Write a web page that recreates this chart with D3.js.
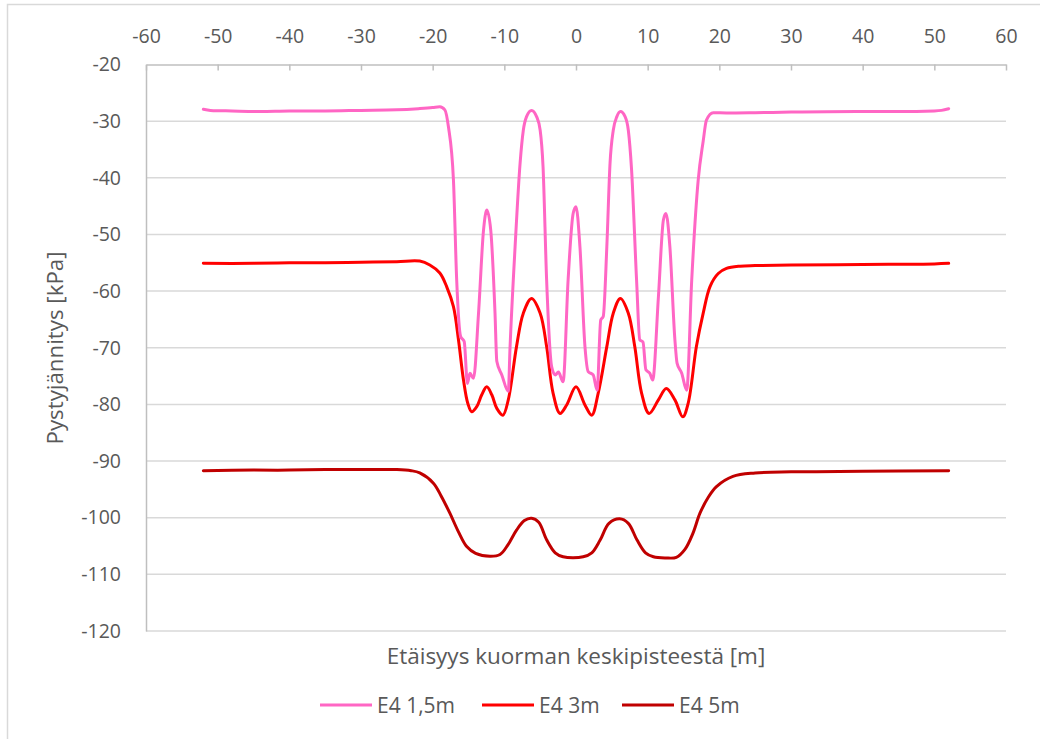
<!DOCTYPE html>
<html>
<head>
<meta charset="utf-8">
<script src="https://cdn.jsdelivr.net/npm/d3@7/dist/d3.min.js"></script>
<style>
  html, body { margin: 0; padding: 0; background: #fff; }
  svg { display: block; }
  text { font-family: "Open Sans", "Noto Sans", sans-serif; fill: #595959; }
</style>
</head>
<body>
<svg id="chart" width="1040" height="739"></svg>
<script>
// Vertical stress profiles across the load centre, three depths
const xTicks = [-60, -50, -40, -30, -20, -10, 0, 10, 20, 30, 40, 50, 60];
const yTicks = [-20, -30, -40, -50, -60, -70, -80, -90, -100, -110, -120];
const seriesNames = ["E4 1,5m", "E4 3m", "E4 5m"];
const seriesColors = ["#ff66c4", "#ff0000", "#c00000"];

// depth 1.5 m: [distance m, stress kPa]
const e4_15 = [
  [-52, -27.9], [-51, -28.1], [-48, -28.2], [-44, -28.3], [-40, -28.2], [-35, -28.2],
  [-30, -28.1], [-25, -28.0], [-22, -27.8], [-20, -27.6], [-19, -27.45], [-18.3, -28.0],
  [-17.8, -31.0], [-17.1, -40.4], [-16.65, -58.0], [-16.1, -68.0], [-15.6, -68.9],
  [-15.15, -76.3], [-14.8, -74.5], [-14.3, -75.4], [-13.6, -63.9], [-12.9, -49.2],
  [-12.45, -45.7], [-11.9, -49.2], [-11.3, -63.9], [-11.05, -72.4], [-10.35, -74.8],
  [-9.45, -77.7], [-9.2, -69.8], [-8.5, -52.2], [-7.8, -37.4], [-7.35, -31.6],
  [-6.9, -29.2], [-6.2, -28.1], [-5.5, -29.2], [-5.0, -31.6], [-4.6, -38.0],
  [-4.1, -58.0], [-3.4, -73.3], [-2.9, -74.8], [-2.45, -74.3], [-1.8, -76.0],
  [-1.1, -58.0], [-0.4, -46.3], [0, -45.1], [0.55, -52.2], [1.25, -69.8], [1.7, -74.2],
  [2.4, -74.8], [2.95, -77.5], [3.45, -65.1], [3.8, -64.5], [4.3, -52.2], [4.75, -37.4],
  [5.2, -31.6], [5.7, -29.2], [6.2, -28.3], [6.85, -29.2], [7.3, -31.6], [7.75, -38.5],
  [8.45, -58.0], [8.9, -68.6], [9.35, -69.0], [9.75, -73.9], [10.3, -74.5], [10.7, -75.7],
  [11.5, -61.0], [12.2, -47.4], [12.55, -46.3], [13.1, -52.2], [13.8, -68.6], [14.1, -72.7],
  [14.75, -74.5], [15.45, -77.5], [16.15, -58.0], [17.05, -40.4], [17.75, -33.5],
  [18.2, -29.8], [19.15, -28.5], [21, -28.55], [25, -28.5], [30, -28.4], [35, -28.35],
  [40, -28.3], [45, -28.3], [50, -28.2], [51, -28.1], [52, -27.8]
];

// depth 3 m
const e4_3 = [
  [-52, -55.1], [-45, -55.1], [-40, -55.0], [-35, -55.0], [-30, -54.9], [-25, -54.8],
  [-21.8, -54.7], [-20.4, -55.4], [-19, -56.8], [-18.05, -59.2], [-17.1, -62.75],
  [-16.4, -68.6], [-15.7, -75.7], [-15.1, -79.8], [-14.55, -81.3], [-13.85, -80.4],
  [-13.15, -78.3], [-12.45, -76.9], [-11.75, -78.3], [-11.05, -80.7], [-10.2, -81.9],
  [-9.45, -79.2], [-8.3, -69.8], [-7.35, -63.9], [-6.2, -61.3], [-5.0, -63.9],
  [-4.1, -69.8], [-3.2, -78.0], [-2.23, -81.6], [-1.3, -80.1], [0, -76.9], [1.25, -80.1],
  [2.2, -81.9], [3.1, -78.0], [4.3, -69.8], [5.2, -63.9], [6.2, -61.3], [7.3, -63.9],
  [8.2, -69.8], [9.15, -78.0], [10.2, -81.6], [11.5, -79.2], [12.6, -77.2], [13.8, -79.2],
  [14.9, -82.2], [15.65, -79.8], [16.8, -69.8], [17.75, -63.9], [18.7, -59.2],
  [19.85, -56.9], [21, -56.0], [22.9, -55.6], [25, -55.5], [30, -55.4], [40, -55.3],
  [50, -55.2], [52, -55.1]
];

// depth 5 m
const e4_5 = [
  [-52, -91.7], [-45, -91.6], [-40, -91.6], [-35, -91.5], [-30, -91.5], [-25, -91.5],
  [-23, -91.7], [-21.8, -92.1], [-19.9, -93.9], [-18.8, -96.2], [-17.6, -99.2],
  [-16.4, -102.5], [-15.25, -105.1], [-14, -106.3], [-12, -106.8], [-10.6, -106.5],
  [-9.5, -104.8], [-8.3, -102.2], [-7.2, -100.5], [-6.2, -100.1], [-5.2, -100.8],
  [-4.1, -103.9], [-2.9, -106.2], [-1.8, -106.9], [1, -106.9], [2.2, -106.2],
  [3.35, -104.0], [4.6, -101.0], [6.1, -100.2], [7.3, -101.0], [8.5, -103.9],
  [9.7, -106.2], [10.8, -106.9], [12.5, -107.1], [14, -107.0], [15.2, -105.6],
  [16.3, -102.8], [17.3, -99.2], [18.5, -96.3], [19.6, -94.5], [21.9, -92.7],
  [25, -92.1], [30, -91.9], [40, -91.8], [52, -91.7]
];

const seriesData = [e4_15, e4_3, e4_5];

const svg = d3.select("#chart");

// chart frame
svg.append("rect")
  .attr("x", 7.5).attr("y", 4.5).attr("width", 1100).attr("height", 800)
  .attr("fill", "none").attr("stroke", "#d9d9d9").attr("stroke-width", 1.5);

const x = d3.scaleLinear().domain([-60, 60]).range([146, 1006]);
const y = d3.scaleLinear().domain([-20, -120]).range([64.5, 631]);
const fmt = d => String(d);

// horizontal gridlines
svg.append("g").selectAll("line").data(yTicks.filter(t => t !== -20)).join("line")
  .attr("x1", x(-60)).attr("x2", x(60))
  .attr("y1", d => y(d)).attr("y2", d => y(d))
  .attr("stroke", "#d9d9d9").attr("stroke-width", 1.5);

// left axis
const yAxis = svg.append("g").attr("transform", `translate(${x(-60)},0)`)
  .call(d3.axisLeft(y).tickValues(yTicks).tickSize(0).tickPadding(25).tickFormat(fmt));
yAxis.select(".domain").attr("stroke", "#bfbfbf").attr("stroke-width", 1.5);
yAxis.selectAll("text").attr("font-size", 19.5).style("font-family", "'Open Sans', sans-serif").attr("fill", "#595959");

// top axis with inward ticks
const xAxis = svg.append("g").attr("transform", `translate(0,${y(-20)})`)
  .call(d3.axisTop(x).tickValues(xTicks).tickSizeInner(-6).tickSizeOuter(0).tickPadding(22).tickFormat(fmt));
xAxis.select(".domain").attr("stroke", "#bfbfbf").attr("stroke-width", 1.5);
xAxis.selectAll(".tick line").attr("stroke", "#bfbfbf").attr("stroke-width", 1.5);
xAxis.selectAll("text").attr("font-size", 19.5).style("font-family", "'Open Sans', sans-serif").attr("fill", "#595959");

// series lines
const lineSmooth = d3.line().x(d => x(d[0])).y(d => y(d[1])).curve(d3.curveCatmullRom.alpha(0.5));
const lineSharp = d3.line().x(d => x(d[0])).y(d => y(d[1])).curve(d3.curveMonotoneX);

seriesData.slice().reverse().forEach((data, k) => {
  const i = seriesData.length - 1 - k;
  svg.append("path")
    .datum(data)
    .attr("fill", "none")
    .attr("stroke", seriesColors[i])
    .attr("stroke-width", 3)
    .attr("stroke-linejoin", "round")
    .attr("stroke-linecap", "round")
    .attr("d", i === 0 ? lineSharp : lineSmooth);
});

// axis titles
svg.append("text")
  .attr("x", 576).attr("y", 664)
  .attr("text-anchor", "middle").attr("font-size", 22.5)
  .text("Etäisyys kuorman keskipisteestä [m]");

svg.append("text")
  .attr("transform", "translate(63,348) rotate(-90)")
  .attr("text-anchor", "middle").attr("font-size", 22.3)
  .text("Pystyjännitys [kPa]");

// legend
const legendX = [320, 482, 622];
const legend = svg.append("g");
seriesNames.forEach((name, i) => {
  const g = legend.append("g").attr("transform", `translate(${legendX[i]},705)`);
  g.append("line").attr("x1", 0).attr("x2", 52).attr("y1", 0).attr("y2", 0)
    .attr("stroke", seriesColors[i]).attr("stroke-width", 3);
  g.append("text").attr("x", 57).attr("y", 7.5).attr("font-size", 21).text(name);
});
</script>
</body>
</html>
